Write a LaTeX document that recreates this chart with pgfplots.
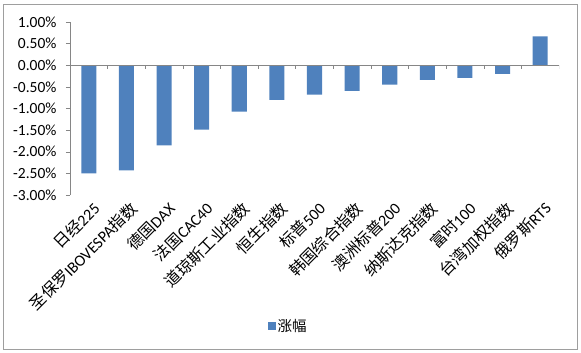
\documentclass[border=0pt]{standalone}
\usepackage{pgfplots}
\pgfplotsset{compat=1.18}
\usepackage{fontspec}
\setmainfont{Carlito}
\newfontfamily\cjk{Noto Sans CJK SC}
\definecolor{barblue}{HTML}{4F81BD}
\definecolor{axgray}{HTML}{868686}
\begin{document}
\begin{tikzpicture}
\useasboundingbox (0,0) rectangle (581pt,-353pt);
\draw[color=axgray!80, line width=0.8pt] (3pt,-4pt) rectangle (577pt,-349pt);
\begin{axis}[
  at={(70pt,-195pt)}, anchor=south west,
  scale only axis, width=489pt, height=173pt,
  xmin=-0.5, xmax=12.5, ymin=-3, ymax=1,
  axis lines=left,
  axis line style={-, draw=axgray},
  x axis line style={draw=none},
  xtick style={draw=none},
  ytick style={draw=axgray, thin},
  tick align=outside, major tick length=4pt,
  ytick={-3,-2.5,...,1},
  /pgf/number format/assume math mode=true,
  yticklabel={\pgfmathprintnumber[fixed,fixed zerofill,precision=2]{\tick}\%},
  yticklabel style={font=\fontsize{15.5}{18}\selectfont, color=black, xshift=-6pt},
  xtick=data,
  xticklabels={{{\cjk 日经}225},{{\cjk 圣保罗}IBOVESPA{\cjk 指数}},{{\cjk 德国}DAX},{{\cjk 法国}CAC40},{{\cjk 道琼斯工业指数}},{{\cjk 恒生指数}},{{\cjk 标普}500},{{\cjk 韩国综合指数}},{{\cjk 澳洲标普}200},{{\cjk 纳斯达克指数}},{{\cjk 富时}100},{{\cjk 台湾加权指数}},{{\cjk 俄罗斯}RTS}},
  xticklabel style={rotate=45, anchor=east, font=\fontsize{16}{18}\selectfont, inner sep=1pt, yshift=-10pt, xshift=2pt},
  legend style={at={(axis description cs:0.446,-0.757)}, anchor=center, draw=none, fill=none, font=\cjk\fontsize{14.5}{16}\selectfont},
  legend image code/.code={\fill[barblue] (0pt,-4pt) rectangle (8pt,4pt);},
]
\addplot[ybar, bar width=0.4, fill=barblue, draw=none] coordinates {
(0,-2.50) (1,-2.43) (2,-1.85) (3,-1.49) (4,-1.07) (5,-0.80) (6,-0.68) (7,-0.59) (8,-0.45) (9,-0.34) (10,-0.29) (11,-0.20) (12,0.67)};
\addlegendentry{涨幅}
\draw[axgray] (axis cs:-0.5,0) -- (axis cs:12.5,0);
\pgfplotsinvokeforeach{-0.5,0.5,1.5,2.5,3.5,4.5,5.5,6.5,7.5,8.5,9.5,10.5,11.5,12.5}{\draw[axgray] (axis cs:#1,0) -- (axis cs:#1,-0.092);}
\end{axis}
\end{tikzpicture}
\end{document}
